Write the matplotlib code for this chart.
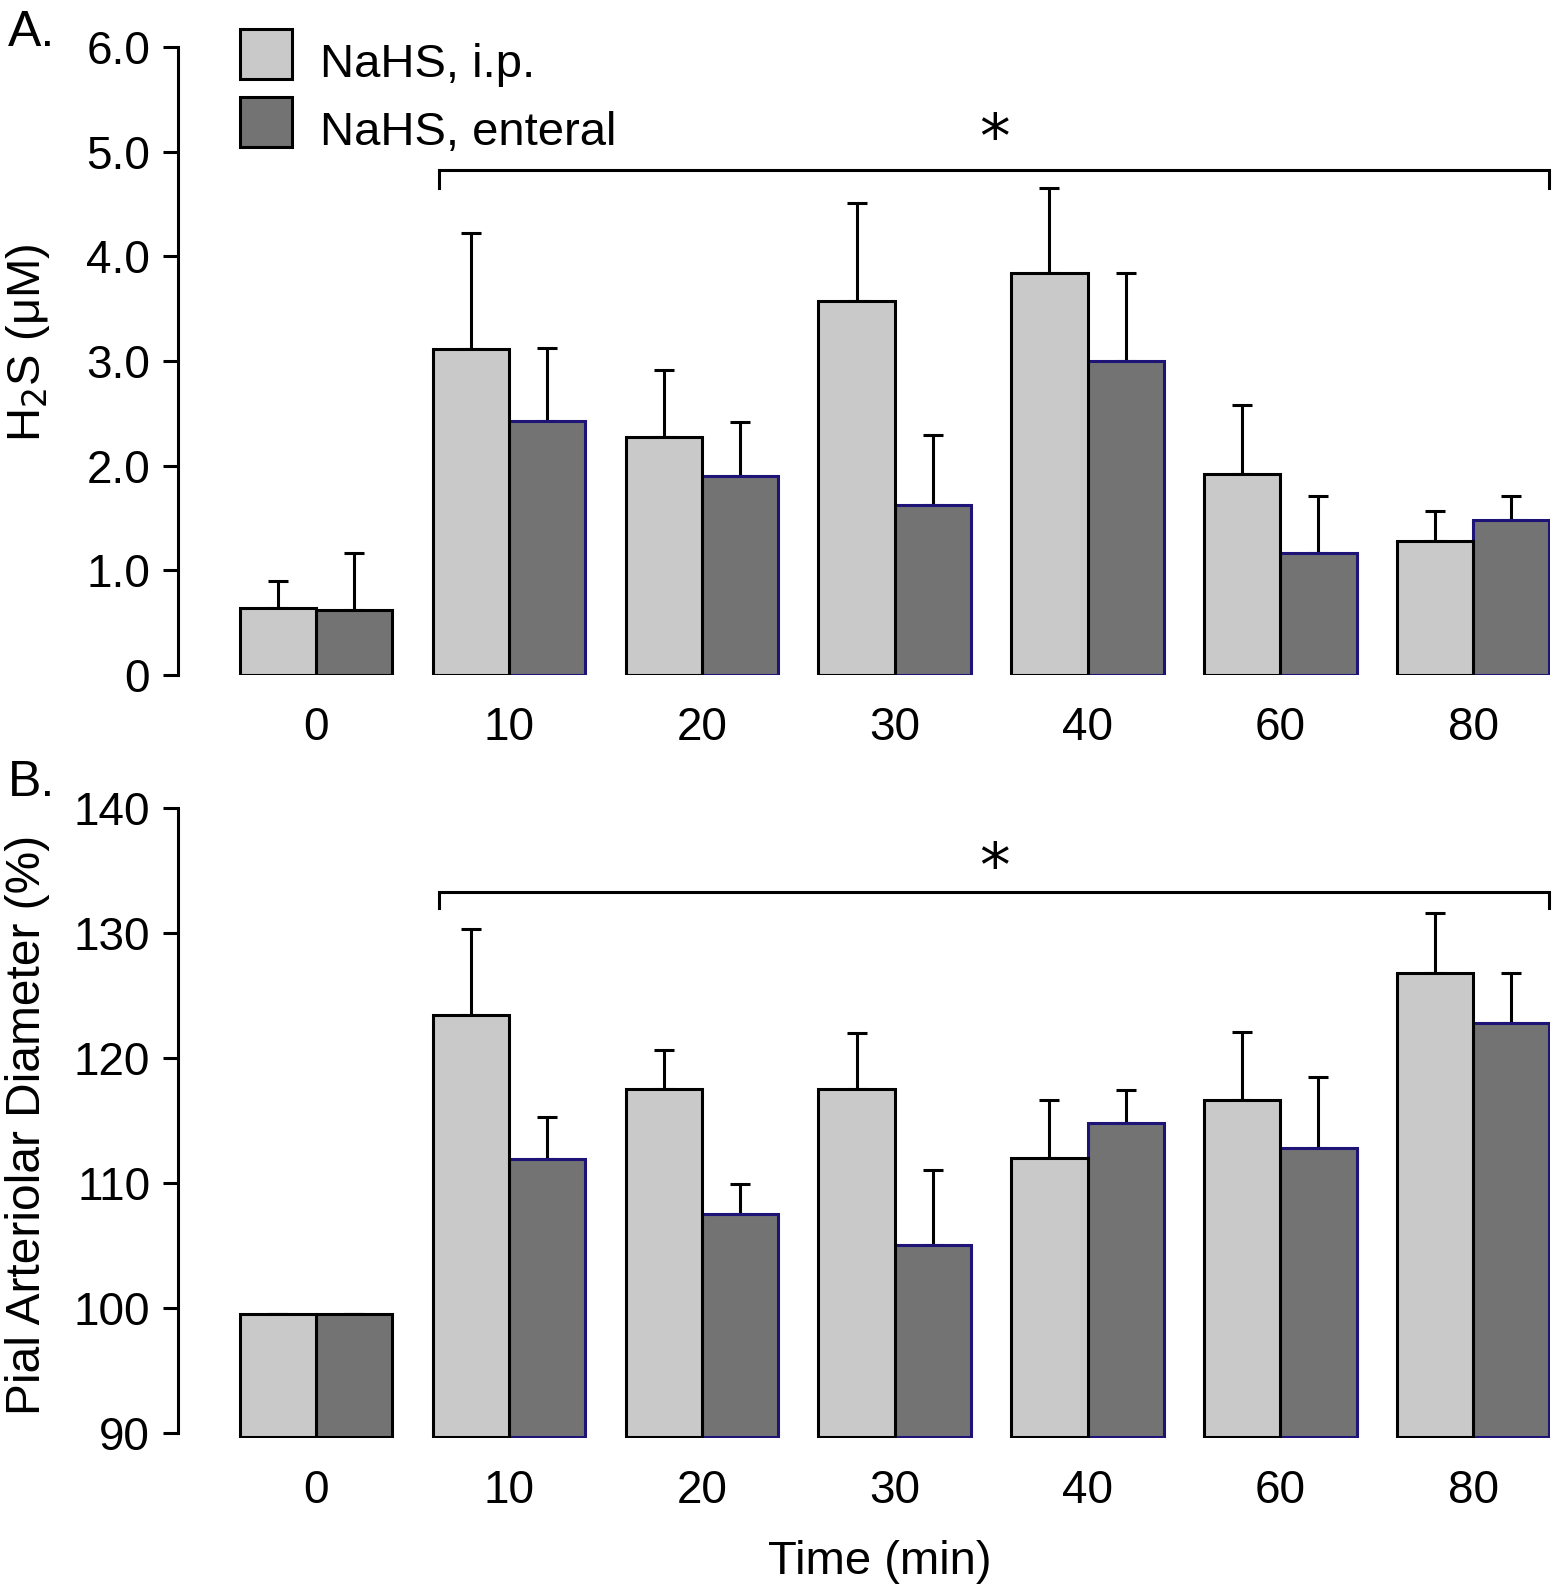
import numpy as np
import matplotlib
matplotlib.use("Agg")
import matplotlib.pyplot as plt
from matplotlib.patches import Rectangle

plt.rcParams['font.family'] = ['Liberation Sans', 'DejaVu Sans']

# data
times = ["0", "10", "20", "30", "40", "60", "80"]

h2s_ip = [0.64, 3.11, 2.27, 3.57, 3.84, 1.92, 1.28]
h2s_ip_err = [0.26, 1.11, 0.64, 0.94, 0.81, 0.66, 0.29]
h2s_ent = [0.62, 2.43, 1.90, 1.62, 3.00, 1.17, 1.48]
h2s_ent_err = [0.55, 0.69, 0.52, 0.67, 0.84, 0.54, 0.23]

diam_ip = [99.5, 123.4, 117.5, 117.5, 112.0, 116.6, 126.8]
diam_ip_err = [0.0, 6.9, 3.1, 4.5, 4.6, 5.5, 4.8]
diam_ent = [99.5, 111.9, 107.5, 105.0, 114.8, 112.8, 122.8]
diam_ent_err = [0.0, 3.4, 2.4, 6.0, 2.6, 5.7, 4.0]

labels = ['NaHS, i.p.', 'NaHS, enteral']

c_ip = '#c9c9c9'
c_ent = '#737373'
navy = '#1e1478'
lw = 2.2
w = 0.395
W, H = 1563, 1593

fig = plt.figure(figsize=(W / 100, H / 100), dpi=100)
axA = fig.add_axes([0.1139, 0.5763, 0.878, 0.3942])
axB = fig.add_axes([0.1139, 0.0973, 0.878, 0.3955])

x = np.arange(len(times))


def panel(ax, ip, ip_err, ent, ent_err, bottom):
    ent_edges = ['black'] + [navy] * (len(times) - 1)
    ax.errorbar(x - w / 2, ip, yerr=[np.zeros(len(ip)), ip_err], fmt='none',
                ecolor='black', elinewidth=lw, capsize=7.5, capthick=lw, zorder=1)
    ax.errorbar(x + w / 2, ent, yerr=[np.zeros(len(ent)), ent_err], fmt='none',
                ecolor='black', elinewidth=lw, capsize=7.5, capthick=lw, zorder=1)
    ax.bar(x + w / 2, np.array(ent) - bottom, w, bottom=bottom, color=c_ent,
           edgecolor=ent_edges, linewidth=lw, zorder=2)
    ax.bar(x - w / 2, np.array(ip) - bottom, w, bottom=bottom, color=c_ip,
           edgecolor='black', linewidth=lw, zorder=3)
    ax.set_xlim(-0.716, 6.40)
    ax.set_xticks(x)
    ax.set_xticklabels(times)
    for s in ['top', 'right', 'bottom']:
        ax.spines[s].set_visible(False)
    ax.spines['left'].set_linewidth(lw)
    ax.tick_params(axis='x', length=0, pad=22, labelsize=33)
    ax.tick_params(axis='y', length=11, width=lw, pad=9, labelsize=33)


def bracket(ax, y, ytick, ystar):
    x0 = x[1] - w + 0.03
    x1 = x[-1] + w
    ax.plot([x0, x0, x1, x1], [ytick, y, y, ytick], color='black', lw=lw,
            clip_on=False, solid_joinstyle='miter')
    ax.text((x0 + x1) / 2, ystar, '*', ha='center', va='center', fontsize=44,
            family='DejaVu Sans')


panel(axA, h2s_ip, h2s_ip_err, h2s_ent, h2s_ent_err, 0)
axA.set_ylim(0, 6)
axA.spines['left'].set_bounds(0, 6)
axA.set_yticks(np.arange(0, 7))
axA.set_yticklabels(['0', '1.0', '2.0', '3.0', '4.0', '5.0', '6.0'])
bracket(axA, 4.82, 4.65, 5.11)

panel(axB, diam_ip, diam_ip_err, diam_ent, diam_ent_err, 89.7)
axB.set_ylim(89.6, 140)
axB.spines['left'].set_bounds(90, 140)
axB.set_yticks(np.arange(90, 141, 10))
bracket(axB, 133.3, 132.0, 135.1)

# legend drawn by hand, top left of panel A
for i, (lab, col) in enumerate(zip(labels, [c_ip, c_ent])):
    top = 28.5 + i * 68
    fig.patches.append(Rectangle((240 / W, 1 - (top + 50.5) / H), 52 / W, 50.5 / H,
                                 transform=fig.transFigure, facecolor=col,
                                 edgecolor='black', linewidth=lw))
    fig.text(320 / W, 1 - (top + 48.5) / H, lab, ha='left', va='baseline',
             fontsize=34)

fig.text(28 / W, 1 - 343 / H, 'H$_2$S (μM)', rotation=90, ha='center',
         va='center', fontsize=34)
fig.text(28 / W, 1 - 1125 / H, 'Pial Arteriolar Diameter (%)', rotation=90,
         ha='center', va='center', fontsize=34.5)
fig.text(880 / W, 1 - 1562 / H, 'Time (min)', ha='center', va='center',
         fontsize=34)
fig.text(8 / W, 1 - 33 / H, 'A.', ha='left', va='center', fontsize=36)
fig.text(8 / W, 1 - 783 / H, 'B.', ha='left', va='center', fontsize=36)

fig.savefig('out.png', dpi=100)
